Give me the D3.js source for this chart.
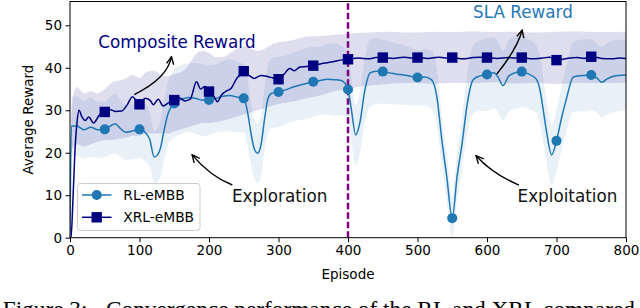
<!DOCTYPE html>
<html>
<head>
<meta charset="utf-8">
<script src="https://cdn.jsdelivr.net/npm/d3@7"></script>
<style>
  body { margin: 0; background: #fff; }
  svg { display: block; font-family: "DejaVu Sans", sans-serif; }
</style>
</head>
<body>
<div id="chart"></div>
<script>
const width = 640;
const height = 308;

const margin = { top: 1.5, left: 70, right: 14, bottom: 70.3 };

// RL-eMBB mean reward (smoothed) and its spread
const rlEp = [0, 2, 10, 20, 30, 40, 50, 58, 65, 72, 80, 90, 100, 108, 115, 121, 126, 130, 135, 141,
  150, 160, 170, 180, 190, 200, 210, 220, 230, 240, 250, 255, 260, 265, 270, 275, 280, 285, 290, 300,
  310, 320, 330, 340, 350, 360, 370, 380, 390, 395, 400, 405, 411, 417, 424, 432, 440, 450, 460, 470,
  480, 490, 500, 510, 520, 528, 535, 542, 550, 557, 564, 572, 580, 590, 600, 610, 616, 623, 631, 640,
  650, 660, 670, 676, 681, 686, 693, 700, 707, 714, 724, 732, 740, 750, 758, 765, 773, 782, 790, 800];
const rlMean = [0, 26.3, 26.3, 25.4, 26, 25.4, 25.5, 26.3, 26.8, 25.8, 24.8, 25.1, 25.5, 24.8, 23, 19, 19.5, 21, 25, 29.2,
  31.6, 32.5, 33, 32.8, 32.4, 32.4, 32.8, 33.3, 33.5, 33.1, 32.8, 30, 25, 21, 19.9, 22, 28, 32.8, 34, 34.3,
  34.8, 35.4, 35.9, 36.3, 36.7, 37, 37.3, 37.2, 37, 36.5, 34.9, 30, 24.2, 27, 34.5, 38.8, 39.2, 39.1, 38.8, 38.5,
  38.3, 38, 37.7, 37.8, 37.2, 33, 23, 14.5, 4.6, 14.5, 22, 32, 37.2, 38.1, 38.4, 38.8, 37.8, 35.8, 38, 38.8,
  39.1, 38.5, 37.5, 35, 30, 24.6, 19.5, 22.8, 28, 32.5, 37.8, 38.1, 38.2, 38.3, 37.6, 36.6, 37.4, 38, 38.2, 38.3];
const rlStd = [0, 7, 7, 6.8, 7, 6.6, 6.5, 6.8, 7, 6.7, 6.5, 6.6, 6.8, 6.8, 6.5, 6.2, 6.3, 6.6, 7, 7.5,
  8, 8.2, 8, 8.3, 8.5, 8.2, 8, 8.3, 8.5, 8.3, 8, 7.8, 7.3, 7, 7, 7.2, 7.5, 8, 8.2, 8.3,
  8.1, 8, 8.2, 8.4, 8.2, 8, 8.3, 8.5, 8.2, 8, 8, 7.6, 7.2, 7.2, 7.6, 8, 7.8, 7.5, 7.4, 7.2,
  7, 6.8, 6.5, 6.6, 6.8, 6.6, 6, 5.5, 5, 5.5, 6, 7, 8, 8.3, 8.5, 8.4, 8.3, 8.2, 8.4, 8.5,
  8.4, 8.2, 8, 7.8, 7.5, 7.2, 7, 7.2, 7.5, 7.8, 8.2, 8.4, 8.5, 8.3, 8.2, 8.3, 8.4, 8.5, 8.4, 8.3];

// XRL-eMBB mean reward (smoothed)
const xrlEp = [0, 1.5, 4, 7, 10, 13, 17, 22, 27, 34, 42, 50, 58, 66, 74, 82, 90, 95, 100, 108,
  115, 120, 127, 134, 142, 150, 158, 165, 173, 182, 188, 194, 200, 208, 212, 218, 225, 232, 240, 245,
  250, 257, 265, 275, 285, 292, 300, 308, 316, 323, 331, 340, 350, 360, 370, 380, 390, 400, 415, 430,
  440, 450, 465, 480, 490, 500, 515, 530, 540, 550, 565, 580, 590, 600, 615, 630, 640, 650, 665, 680,
  690, 700, 715, 730, 740, 750, 765, 780, 790, 800];
const xrlMean = [0, 0, 8, 20, 27, 30, 28.5, 27.6, 28.4, 27, 28.8, 29.6, 30.1, 29.7, 29.8, 31.2, 33.2, 32.3, 31.4, 32.8,
  32.4, 31.3, 32.6, 31, 31.8, 32.4, 32.9, 32.2, 32.6, 36.7, 35, 35.6, 34.4, 33, 32, 33.6, 34.5, 35.2, 37.5, 38.4,
  39.2, 38.3, 37.5, 38.2, 37.9, 37.6, 37.3, 38.5, 39.8, 39.3, 40.2, 40.3, 40.5, 40.9, 41.2, 41.5, 41.8, 42, 42.3, 42.1,
  42.4, 42.4, 42.2, 42.5, 42.3, 42.4, 42.2, 42.5, 42.3, 42.4, 42.1, 42.4, 42.5, 42.4, 42.2, 42.4, 42.3, 42.4, 42.1, 42.3,
  42.5, 41.8, 42.2, 42.4, 42.2, 42.6, 42.2, 42.1, 42.3, 42.2];

// XRL-eMBB spread (lower / upper edge)
const xBandEp = [1.5, 5, 10, 20, 30, 40, 50, 60, 70, 80, 90, 100, 110, 120, 130, 140, 150, 160, 170, 180,
  190, 200, 210, 220, 230, 240, 250, 260, 270, 280, 290, 300, 320, 340, 360, 380, 400, 430, 460, 490,
  520, 550, 580, 610, 640, 670, 700, 730, 760, 800];
const xBandHi = [28, 34, 35.5, 34, 34.5, 34, 35, 36.5, 37, 37.5, 38.3, 37.6, 39, 39.3, 38.5, 38, 38.5, 39, 40.5, 43,
  44, 43.5, 42.5, 42.5, 43.5, 44.5, 45, 44.5, 44, 44.5, 45.5, 46, 46.5, 47.3, 47.5, 47.8, 48, 48.3, 48.5, 48.3,
  48.5, 48.4, 48.6, 48.4, 48.5, 48.3, 48.5, 48.6, 48.4, 48.5];
const xBandLo = [20, 21.5, 22, 21.5, 22, 22.5, 23, 23, 23.3, 23.5, 24, 24, 24.5, 24.5, 24.5, 24.5, 25, 25.5, 26, 26.5,
  27, 27, 27.2, 27.5, 28, 28.5, 29, 29.5, 30, 30.5, 31, 31.5, 32, 32.8, 33.5, 34.5, 35, 35.8, 36.2, 36.5,
  36.3, 36.5, 36.4, 36.6, 36.3, 36.5, 36.2, 36.5, 36.4, 36.5];

const xTicks = [0, 100, 200, 300, 400, 500, 600, 700, 800];
const yTicks = [0, 10, 20, 30, 40, 50];
const switchEp = 400;
const markEvery = 50;

const seriesNames = ["RL-eMBB", "XRL-eMBB"];
const colRL = "#1f77b4";
const colXRL = "#000080";

// annotation texts and arrows (data coords)
const notes = [
  { text: "Composite Reward", ep: 40.6, val: 44.6, color: colXRL },
  { text: "SLA Reward", ep: 580, val: 51.6, color: colRL },
  { text: "Exploration", ep: 233, val: 8.3, color: "#111" },
  { text: "Exploitation", ep: 644, val: 8.4, color: "#111" }
];
const arrows = [
  { from: [92.5, 33.7], ctrl: [140.3, 37.5], to: [146, 42.6] },
  { from: [614, 38.5], ctrl: [643.9, 44.6], to: [650.6, 48.9] },
  { from: [233.5, 12.4], ctrl: [201.4, 14.5], to: [175.7, 19.5] },
  { from: [646, 12.4], ctrl: [608, 15.0], to: [584.2, 19.3] }
];

const svg = d3.select("#chart").append("svg").attr("width", width).attr("height", height);

const xScale = d3.scaleLinear().domain([0, 800]).range([margin.left, width - margin.right]);
const yScale = d3.scaleLinear().domain([0, 55.6]).range([height - margin.bottom, margin.top]);

svg.append("clipPath").attr("id", "plotclip")
  .append("rect")
  .attr("x", margin.left).attr("y", margin.top)
  .attr("width", width - margin.left - margin.right)
  .attr("height", height - margin.top - margin.bottom);

const rl = rlEp.map((e, i) => ({ ep: e, v: rlMean[i], s: rlStd[i] }));
const xrl = xrlEp.map((e, i) => ({ ep: e, v: xrlMean[i] }));
const xband = xBandEp.map((e, i) => ({ ep: e, lo: xBandLo[i], hi: xBandHi[i] }));

const plot = svg.append("g").attr("clip-path", "url(#plotclip)");

// bands
plot.append("path")
  .datum(rl.filter(d => d.ep > 0))
  .attr("fill", colRL).attr("fill-opacity", 0.1)
  .attr("d", d3.area().curve(d3.curveMonotoneX)
    .x(d => xScale(d.ep))
    .y0(d => yScale(Math.max(0, d.v - d.s)))
    .y1(d => yScale(d.v + d.s)));

plot.append("path")
  .datum(xband)
  .attr("fill", colXRL).attr("fill-opacity", 0.13)
  .attr("d", d3.area().curve(d3.curveMonotoneX)
    .x(d => xScale(d.ep))
    .y0(d => yScale(d.lo))
    .y1(d => yScale(d.hi)));

// exploration / exploitation switch
plot.append("line")
  .attr("x1", xScale(switchEp)).attr("x2", xScale(switchEp))
  .attr("y1", yScale(0)).attr("y2", margin.top)
  .attr("stroke", "#800080").attr("stroke-width", 2.5)
  .attr("stroke-dasharray", "6.5,3");

const line = d3.line().curve(d3.curveMonotoneX).x(d => xScale(d.ep)).y(d => yScale(d.v));

plot.append("path").datum(rl)
  .attr("fill", "none").attr("stroke", colRL).attr("stroke-width", 1.5)
  .attr("d", line);

plot.append("path").datum(xrl)
  .attr("fill", "none").attr("stroke", colXRL).attr("stroke-width", 1.5)
  .attr("d", line);

// markers
svg.selectAll("circle.rl")
  .data(rl.filter(d => d.ep > 0 && d.ep < 800 && d.ep % markEvery === 0))
  .join("circle")
  .attr("class", "rl")
  .attr("cx", d => xScale(d.ep)).attr("cy", d => yScale(d.v))
  .attr("r", 5).attr("fill", colRL);

svg.selectAll("rect.xrl")
  .data(xrl.filter(d => d.ep > 0 && d.ep < 800 && d.ep % markEvery === 0))
  .join("rect")
  .attr("class", "xrl")
  .attr("x", d => xScale(d.ep) - 5.2).attr("y", d => yScale(d.v) - 5.2)
  .attr("width", 10.4).attr("height", 10.4).attr("fill", colXRL);

// axes
const xAxis = d3.axisBottom(xScale).tickValues(xTicks).tickSize(4.5).tickPadding(3.5);
const yAxis = d3.axisLeft(yScale).tickValues(yTicks).tickSize(4.5).tickPadding(3.5);

const gx = svg.append("g").attr("transform", `translate(0,${yScale(0)})`).call(xAxis);
const gy = svg.append("g").attr("transform", `translate(${margin.left},0)`).call(yAxis);
[gx, gy].forEach(g => {
  g.select(".domain").remove();
  g.selectAll("text").attr("font-size", 13.5).attr("fill", "#000").attr("font-family", "DejaVu Sans");
  g.selectAll("line").attr("stroke", "#000").attr("stroke-width", 1);
});

svg.append("rect")
  .attr("x", margin.left).attr("y", margin.top)
  .attr("width", width - margin.left - margin.right)
  .attr("height", yScale(0) - margin.top)
  .attr("fill", "none").attr("stroke", "#000").attr("stroke-width", 1);

svg.append("text")
  .attr("x", (xScale(0) + xScale(800)) / 2).attr("y", 279)
  .attr("text-anchor", "middle").attr("font-size", 13.5)
  .text("Episode");

svg.append("text")
  .attr("transform", `translate(33,${(yScale(0) + margin.top) / 2}) rotate(-90)`)
  .attr("text-anchor", "middle").attr("font-size", 13.5)
  .text("Average Reward");

// annotations
svg.append("defs").append("marker")
  .attr("id", "head")
  .attr("viewBox", "-9 -5 10 10")
  .attr("refX", 0).attr("refY", 0)
  .attr("markerWidth", 10).attr("markerHeight", 10)
  .attr("markerUnits", "userSpaceOnUse")
  .attr("orient", "auto")
  .append("path")
  .attr("d", "M-7.5,-3.6 L0,0 L-7.5,3.6")
  .attr("fill", "none").attr("stroke", "#000").attr("stroke-width", 1.4);

svg.selectAll("path.arrow")
  .data(arrows)
  .join("path")
  .attr("class", "arrow")
  .attr("fill", "none").attr("stroke", "#000").attr("stroke-width", 1.4)
  .attr("marker-end", "url(#head)")
  .attr("d", d => `M${xScale(d.from[0])},${yScale(d.from[1])} Q${xScale(d.ctrl[0])},${yScale(d.ctrl[1])} ${xScale(d.to[0])},${yScale(d.to[1])}`);

svg.selectAll("text.note")
  .data(notes)
  .join("text")
  .attr("class", "note")
  .attr("x", d => xScale(d.ep)).attr("y", d => yScale(d.val))
  .attr("font-size", 16.8).attr("fill", d => d.color)
  .text(d => d.text);

// legend
const lg = svg.append("g");
lg.append("rect")
  .attr("x", 77.5).attr("y", 183.5).attr("width", 122.5).attr("height", 47)
  .attr("rx", 3).attr("fill", "#fff").attr("fill-opacity", 0.8)
  .attr("stroke", "#cccccc").attr("stroke-width", 1);

seriesNames.forEach((name, i) => {
  const y = 195 + i * 22.3;
  const col = i === 0 ? colRL : colXRL;
  lg.append("line").attr("x1", 82).attr("x2", 111.5).attr("y1", y).attr("y2", y)
    .attr("stroke", col).attr("stroke-width", 1.5);
  if (i === 0) {
    lg.append("circle").attr("cx", 96.7).attr("cy", y).attr("r", 5).attr("fill", col);
  } else {
    lg.append("rect").attr("x", 96.7 - 5.2).attr("y", y - 5.2).attr("width", 10.4).attr("height", 10.4).attr("fill", col);
  }
  lg.append("text").attr("x", 123.3).attr("y", y).attr("dy", "0.36em")
    .attr("font-size", 13.8).text(name);
});

// figure caption, cut off by the page edge
const cap = svg.append("text")
  .attr("y", 317).attr("font-family", "'Liberation Serif', 'Times New Roman', serif")
  .attr("font-size", 23.3).attr("fill", "#000");
cap.append("tspan").attr("x", 2.7).text("Figure 3:");
cap.append("tspan").attr("x", 106).text("Convergence performance of the RL and XRL compared");
</script>
</body>
</html>
